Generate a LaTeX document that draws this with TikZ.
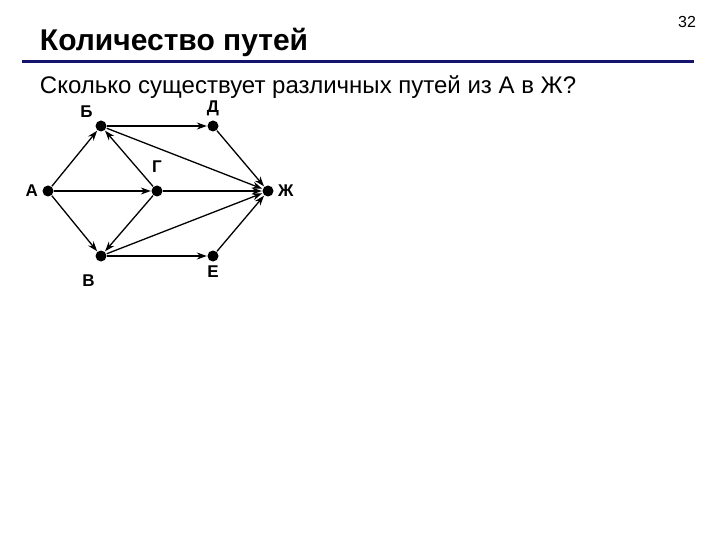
\documentclass[tikz,border=0pt]{standalone}
\usepackage{fontspec}
\setmainfont{Liberation Sans}
\usetikzlibrary{arrows.meta}
\definecolor{navy}{RGB}{20,20,110}

\begin{document}
\begin{tikzpicture}[x=1pt,y=-1pt]
\tikzstyle{every path}=[-{Stealth[length=10pt,width=7pt]},line width=1.3pt];
\tikzstyle{vert}=[circle,fill=black,inner sep=0pt,minimum size=11pt];
\tikzstyle{lbl}=[font=\fontsize{17}{19}\selectfont\bfseries];
\useasboundingbox[-] (0,0) rectangle (720,540);
\node (title) [anchor=base west,font=\fontsize{30}{34}\selectfont\bfseries] at (36,51) {Количество путей};
\node (num) [anchor=base east,font=\fontsize{16}{18}\selectfont] at (700,28) {32};
\draw[-,navy,line width=3pt] (22,62) -- (694,62);
\node (quest) [anchor=base west,font=\fontsize{24}{28}\selectfont] at (36,94) {Сколько существует различных путей из А в Ж?};
\node (A) [vert,label={[lbl]left:А}] at (48,191) {};
\node (B) [vert,label={[lbl]above left:Б}] at (101,126) {};
\node (D) [vert,label={[lbl]above:Д}] at (213,126) {};
\node (G) [vert,label={[lbl,yshift=8pt]above:Г}] at (157,191) {};
\node (Zh) [vert,label={[lbl]right:Ж}] at (268,191) {};
\node (V) [vert,label={[lbl,yshift=-10pt,xshift=2pt]below left:В}] at (101,256) {};
\node (E) [vert,label={[lbl]below:Е}] at (213,256) {};
\draw (A) -- (B);
\draw (A) -- (G);
\draw (A) -- (V);
\draw (G) -- (B);
\draw (G) -- (V);
\draw (B) -- (D);
\draw (B) -- (Zh);
\draw (D) -- (Zh);
\draw (G) -- (Zh);
\draw (V) -- (Zh);
\draw (V) -- (E);
\draw (E) -- (Zh);
\end{tikzpicture}
\end{document}
